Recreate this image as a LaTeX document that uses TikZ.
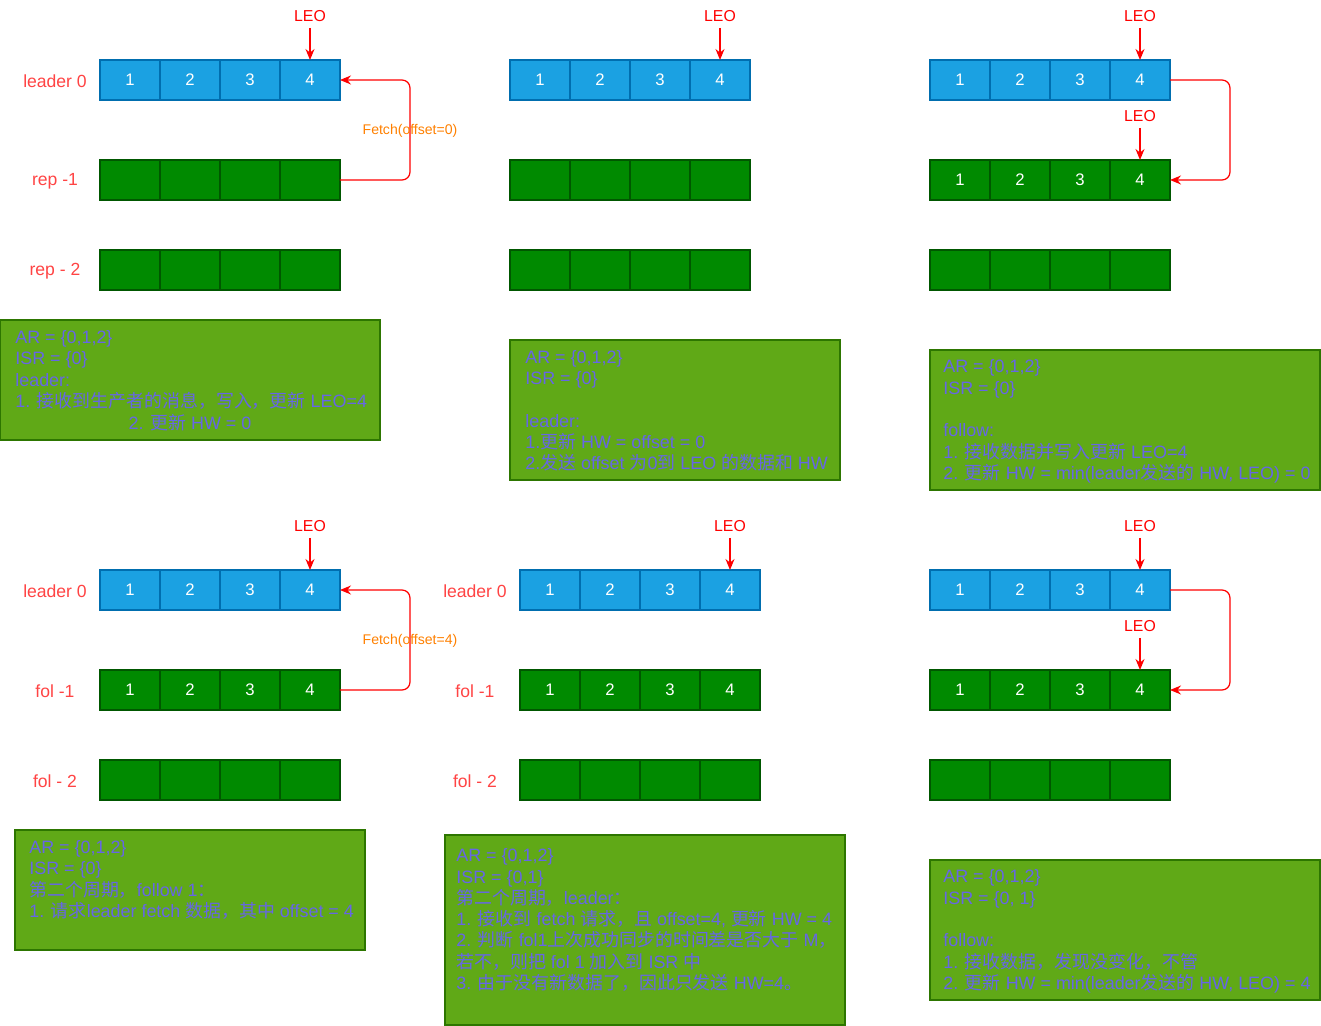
\documentclass[tikz,border=0pt]{standalone}
\usepackage{fontspec}
\setmainfont{Liberation Sans}
\newfontfamily\cjk{Noto Sans CJK SC}
\usetikzlibrary{arrows.meta}

\definecolor{cellblue}{HTML}{1BA1E2}
\definecolor{cellblueline}{HTML}{006EAF}
\definecolor{cellgreen}{HTML}{008A00}
\definecolor{cellgreenline}{HTML}{005700}
\definecolor{notegreen}{HTML}{60A917}
\definecolor{noteline}{HTML}{2D7600}
\definecolor{notefont}{HTML}{6666E6}
\definecolor{labred}{HTML}{FF4444}
\definecolor{fetchorange}{HTML}{FF8000}

\newcommand{\zh}[1]{{\cjk #1}}
\newcommand{\boxfont}{\fontsize{10.2pt}{12.1pt}\selectfont}
% one row of four cells: name, left x, centre y, style, text
\newcommand{\cellrow}[5]{%
  \foreach \i in {1,...,4}
    \node[#4] (#1-\i) at ({#2+60*\i-30},#3) {#5};%
}

\begin{document}
\begin{tikzpicture}[x=0.02cm, y=-0.02cm,
    bcell/.style={draw=cellblueline, fill=cellblue, text=white, line width=0.6pt,
      minimum width=1.2cm, minimum height=0.8cm, inner sep=0pt, outer sep=0pt,
      font=\fontsize{9.5pt}{11pt}\selectfont},
    gcell/.style={bcell, draw=cellgreenline, fill=cellgreen},
    rowlab/.style={text=labred, font=\fontsize{10pt}{12pt}\selectfont},
    leo/.style={text=red, font=\fontsize{9pt}{11pt}\selectfont},
    pointer/.style={draw=red, line width=0.7pt, -{Stealth[length=2.2mm,width=1.8mm]}},
    fetchlab/.style={text=fetchorange, font=\fontsize{8pt}{10pt}\selectfont},
    notebox/.style={draw=noteline, fill=notegreen, line width=0.6pt},
    notetext/.style={text=notefont, font=\boxfont, align=left, inner sep=0pt, anchor=west}]

  \useasboundingbox (0,0) rectangle (1321,1026);

  % first round, leader writes
  \node[rowlab] (a-lab1) at (55,81) {leader 0};
  \node[rowlab] (a-lab2) at (55,181) {rep -1};
  \node[rowlab] (a-lab3) at (55,271) {rep - 2};
  \cellrow{a-top}{100}{80}{bcell}{\i}
  \cellrow{a-mid}{100}{180}{gcell}{}
  \cellrow{a-bot}{100}{270}{gcell}{}
  \node[leo] (a-leo) at (310,16) {LEO};
  \draw[pointer] (a-leo) -- (a-top-4.north);
  \draw[pointer, rounded corners=0.16cm] (a-mid-4.east) -- ++(70,0) |- (a-top-4.east);
  \node[fetchlab] (a-fetch) at (410,131) {Fetch(offset=0)};
  \draw[notebox] (0,320) rectangle (380,440);
  \node[notetext] (a-note) at (15,370) {AR = \{0,1,2\}\\ISR = \{0\}\\leader:\\
    1. \zh{接收到生产者的消息，写入，更新} LEO=4};
  \node[notetext, anchor=center] (a-note2) at (190,423) {2. \zh{更新} HW = 0};

  % leader answers
  \cellrow{b-top}{510}{80}{bcell}{\i}
  \cellrow{b-mid}{510}{180}{gcell}{}
  \cellrow{b-bot}{510}{270}{gcell}{}
  \node[leo] (b-leo) at (720,16) {LEO};
  \draw[pointer] (b-leo) -- (b-top-4.north);
  \draw[notebox] (510,340) rectangle (840,480);
  \node[notetext] (b-note) at (525,411) {AR = \{0,1,2\}\\ISR = \{0\}\\~\\leader:\\
    1.\zh{更新} HW = offset = 0\\
    2.\zh{发送} offset \zh{为}0\zh{到} LEO \zh{的数据和} HW};

  % follower writes
  \cellrow{c-top}{930}{80}{bcell}{\i}
  \cellrow{c-mid}{930}{180}{gcell}{\i}
  \cellrow{c-bot}{930}{270}{gcell}{}
  \node[leo] (c-leo) at (1140,16) {LEO};
  \draw[pointer] (c-leo) -- (c-top-4.north);
  \node[leo] (c-leo2) at (1140,116) {LEO};
  \draw[pointer] (c-leo2) -- (c-mid-4.north);
  \draw[pointer, rounded corners=0.16cm] (c-top-4.east) -- ++(60,0) |- (c-mid-4.east);
  \draw[notebox] (930,350) rectangle (1320,490);
  \node[notetext] (c-note) at (943,421.5) {AR = \{0,1,2\}\\ISR = \{0\}\\~\\follow:\\
    1. \zh{接收数据并写入更新} LEO=4\\
    2. \zh{更新} HW = min(leader\zh{发送的} HW, LEO) = 0};

  % second round, follower fetches
  \node[rowlab] (d-lab1) at (55,591) {leader 0};
  \node[rowlab] (d-lab2) at (55,691) {fol -1};
  \node[rowlab] (d-lab3) at (55,781) {fol - 2};
  \cellrow{d-top}{100}{590}{bcell}{\i}
  \cellrow{d-mid}{100}{690}{gcell}{\i}
  \cellrow{d-bot}{100}{780}{gcell}{}
  \node[leo] (d-leo) at (310,526) {LEO};
  \draw[pointer] (d-leo) -- (d-top-4.north);
  \draw[pointer, rounded corners=0.16cm] (d-mid-4.east) -- ++(70,0) |- (d-top-4.east);
  \node[fetchlab] (d-fetch) at (410,641) {Fetch(offset=4)};
  \draw[notebox] (15,830) rectangle (365,950);
  \node[notetext] (d-note) at (29,880) {AR = \{0,1,2\}\\ISR = \{0\}\\
    \zh{第二个周期，}follow 1\zh{：}\\
    1. \zh{请求}leader fetch \zh{数据，其中} offset = 4};

  % leader answers again
  \node[rowlab] (e-lab1) at (475,591) {leader 0};
  \node[rowlab] (e-lab2) at (475,691) {fol -1};
  \node[rowlab] (e-lab3) at (475,781) {fol - 2};
  \cellrow{e-top}{520}{590}{bcell}{\i}
  \cellrow{e-mid}{520}{690}{gcell}{\i}
  \cellrow{e-bot}{520}{780}{gcell}{}
  \node[leo] (e-leo) at (730,526) {LEO};
  \draw[pointer] (e-leo) -- (e-top-4.north);
  \draw[notebox] (445,835) rectangle (845,1025);
  \node[notetext] (e-note) at (456,920) {AR = \{0,1,2\}\\ISR = \{0,1\}\\
    \zh{第二个周期，}leader\zh{：}\\
    1. \zh{接收到} fetch \zh{请求，且} offset=4, \zh{更新} HW = 4\\
    2. \zh{判断} fol1\zh{上次成功同步的时间差是否大于} M\zh{，}\\
    \zh{若不，则把} fol 1 \zh{加入到} ISR \zh{中}\\
    3. \zh{由于没有新数据了，因此只发送} HW=4\zh{。}};

  % follower updates HW
  \cellrow{f-top}{930}{590}{bcell}{\i}
  \cellrow{f-mid}{930}{690}{gcell}{\i}
  \cellrow{f-bot}{930}{780}{gcell}{}
  \node[leo] (f-leo) at (1140,526) {LEO};
  \draw[pointer] (f-leo) -- (f-top-4.north);
  \node[leo] (f-leo2) at (1140,626) {LEO};
  \draw[pointer] (f-leo2) -- (f-mid-4.north);
  \draw[pointer, rounded corners=0.16cm] (f-top-4.east) -- ++(60,0) |- (f-mid-4.east);
  \draw[notebox] (930,860) rectangle (1320,1000);
  \node[notetext] (f-note) at (943,931.5) {AR = \{0,1,2\}\\ISR = \{0, 1\}\\~\\follow:\\
    1. \zh{接收数据，发现没变化，不管}\\
    2. \zh{更新} HW = min(leader\zh{发送的} HW, LEO) = 4};
\end{tikzpicture}
\end{document}
